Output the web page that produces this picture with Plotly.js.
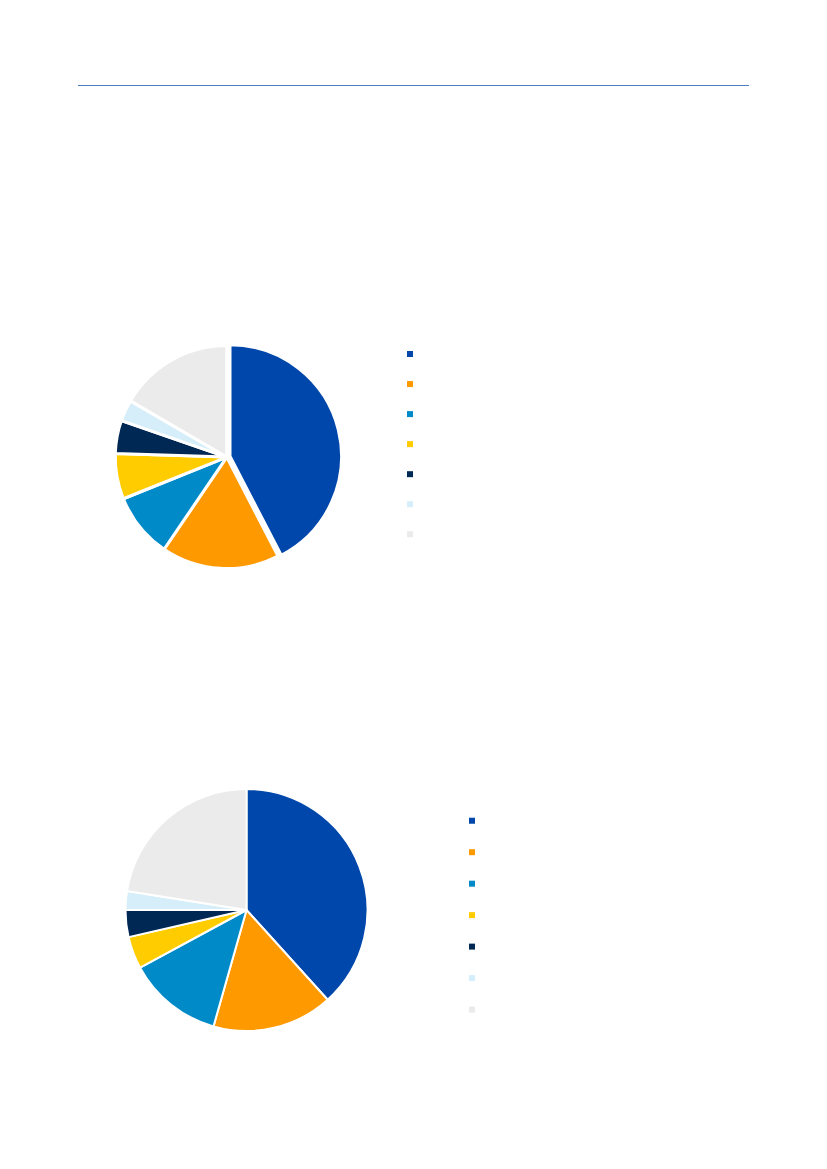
<!DOCTYPE html>
<html>
<head>
<meta charset="utf-8">
<script src="https://cdn.plot.ly/plotly-3.0.1.min.js"></script>
<style>
  html, body { margin: 0; padding: 0; background: #fff; }
  #chart { width: 827px; height: 1169px; }
</style>
</head>
<body>
<div id="chart"></div>
<script>
// Slice colours, shared by both pies
const sliceColors = ['#0047AB', '#FF9900', '#008BC8', '#FFCC00', '#002855', '#D6EEF9', '#EBEBEB'];

// Legend entries carry no visible text in the reference
const legendLabels = [' ', '  ', '   ', '    ', '     ', '      ', '       '];

// Shares in percent, read clockwise from 12 o'clock
const topValues = [42.4, 17.1, 9.4, 6.6, 4.8, 3.1, 16.6];
const bottomValues = [38.3, 16.1, 12.7, 4.3, 3.6, 2.5, 22.5];

// Pie 1: the first slice is pulled out a little
const topPull = [0.03, 0, 0, 0, 0, 0, 0];

function pieTrace(values, domain, pull, lineWidth) {
    return {
        type: 'pie',
        labels: legendLabels,
        values: values,
        sort: false,
        direction: 'clockwise',
        rotation: 0,
        pull: pull,
        textinfo: 'none',
        hoverinfo: 'percent',
        showlegend: false,
        marker: {colors: sliceColors, line: {color: '#ffffff', width: lineWidth}},
        domain: domain
    };
}

// Small square legend keys, one empty trace per slice colour
function legendKeys(legendId) {
    return sliceColors.map((c, i) => ({
        type: 'scatter',
        mode: 'markers',
        x: [null],
        y: [null],
        name: legendLabels[i],
        legend: legendId,
        hoverinfo: 'skip',
        marker: {symbol: 'square', size: 6, color: c}
    }));
}

const px = v => v / 827;
const py = v => 1 - v / 1169;

const data = [
    pieTrace(topValues, {x: [px(111.9), px(341.6)], y: [py(571.9), py(342.2)]}, topPull, 3),
    pieTrace(bottomValues, {x: [px(125.5), px(367.5)], y: [py(1031), py(789)]}, Array(7).fill(0), 2),
    ...legendKeys('legend'),
    ...legendKeys('legend2')
];

const layout = {
    width: 827,
    height: 1169,
    margin: {l: 0, r: 0, t: 0, b: 0},
    paper_bgcolor: '#ffffff',
    plot_bgcolor: '#ffffff',
    xaxis: {visible: false},
    yaxis: {visible: false},
    legend: {
        x: px(390), xanchor: 'left',
        y: py(334), yanchor: 'top',
        font: {family: 'Liberation Sans, Arial', size: 20.8, color: '#333'},
        bgcolor: 'rgba(0,0,0,0)',
        tracegroupgap: 0
    },
    legend2: {
        x: px(452), xanchor: 'left',
        y: py(800), yanchor: 'top',
        font: {family: 'Liberation Sans, Arial', size: 21.9, color: '#333'},
        bgcolor: 'rgba(0,0,0,0)',
        tracegroupgap: 0
    },
    shapes: [{
        type: 'line', xref: 'paper', yref: 'paper',
        x0: px(78), x1: px(749), y0: py(85.5), y1: py(85.5),
        line: {color: '#4F7EC0', width: 1}
    }]
};

Plotly.newPlot('chart', data, layout, {displayModeBar: false, staticPlot: true});
</script>
</body>
</html>
